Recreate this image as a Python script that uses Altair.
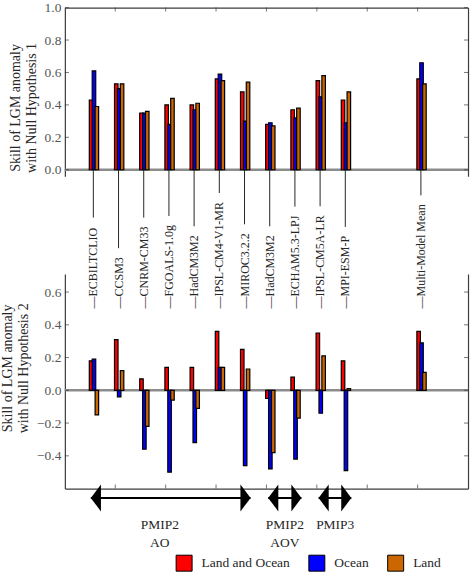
import altair as alt
import pandas as pd

# ---- data -------------------------------------------------------------
models = ["ECBILTCLIO", "CCSM3", "CNRM-CM33", "FGOALS-1.0g", "HadCM3M2",
          "IPSL-CM4-V1-MR", "MIROC3.2.2", "HadCM3M2", "ECHAM5.3-LPJ",
          "IPSL-CM5A-LR", "MPI-ESM-P", "Multi-Model Mean"]
slots = [1, 2, 3, 4, 5, 6, 7, 8, 9, 10, 11, 14]

series = ["Land and Ocean", "Ocean", "Land"]
series_colors = ["#ff0000", "#0000ff", "#cc6600"]

# Skill with null hypothesis 1
h1_land_ocean = [0.43, 0.53, 0.35, 0.40, 0.40, 0.56, 0.48, 0.28, 0.37, 0.55, 0.43, 0.56]
h1_ocean = [0.61, 0.50, 0.35, 0.28, 0.37, 0.59, 0.30, 0.29, 0.32, 0.45, 0.29, 0.66]
h1_land = [0.39, 0.53, 0.36, 0.44, 0.41, 0.55, 0.54, 0.27, 0.38, 0.58, 0.48, 0.53]

# Skill with null hypothesis 2
h2_land_ocean = [0.18, 0.31, 0.07, 0.14, 0.14, 0.36, 0.25, -0.05, 0.08, 0.35, 0.18, 0.36]
h2_ocean = [0.19, -0.04, -0.36, -0.50, -0.32, 0.14, -0.46, -0.48, -0.42, -0.14, -0.49, 0.29]
h2_land = [-0.15, 0.12, -0.22, -0.06, -0.11, 0.14, 0.13, -0.38, -0.17, 0.21, 0.01, 0.11]

# Model ensembles marked with double arrows under the lower panel
groups = ["PMIP2\nAO", "PMIP2\nAOV", "PMIP3"]
group_start = [1.03, 8.07, 10.07]
group_end = [7.37, 9.39, 11.37]
group_label_x = [3.77, 8.73, 10.73]

top_ticks = [0.0, 0.2, 0.4, 0.6, 0.8, 1.0]
bottom_ticks = [-0.4, -0.2, 0.0, 0.2, 0.4, 0.6]
x_ticks = [2, 4, 6, 8, 10, 12, 14]

# ---- layout / style ---------------------------------------------------
FONT = "Liberation Serif"
TEXT = "#262626"
TICK_TEXT = "#555555"
SPINE = "#3c3c3c"
ZERO = "#8c8c8c"

PLOT_W = 404
X_DOMAIN = [0, 16]
TOP_DOMAIN = [-0.04, 1.0]
TOP_H = 169
BOT_DOMAIN = [-0.6, 0.71]
BOT_H = 215
GAP = 98
TOP_PX = TOP_H / (TOP_DOMAIN[1] - TOP_DOMAIN[0])
BOT_PX = BOT_H / (BOT_DOMAIN[1] - BOT_DOMAIN[0])

BAR_OFFSET = [0.04, 0.155, 0.27]
BAR_W = 0.14
LABEL_OFFSET = 0.13
LABEL_SIZE = 12
LABEL_Y = 0.50
ARROW_Y = -0.657
GROUP_TEXT_Y = -0.781
HEAD = 729  # arrow head symbol area

xscale = alt.Scale(domain=X_DOMAIN, nice=False, zero=False)
yscale_top = alt.Scale(domain=TOP_DOMAIN, nice=False, zero=False)
yscale_bot = alt.Scale(domain=BOT_DOMAIN, nice=False, zero=False)
color_scale = alt.Scale(domain=series, range=series_colors)

# Times-compatible advance widths (per 1000 em) used to size the leader lines
_W = dict(zip("ABCDEFGHIJKLMNOPQRSTUVWXYZ",
              [722, 667, 667, 722, 611, 556, 722, 722, 333, 389, 722, 611, 889,
               722, 722, 556, 722, 667, 556, 611, 722, 722, 944, 722, 722, 611]))
_W.update(dict(zip("abcdefghijklmnopqrstuvwxyz",
                   [444, 500, 444, 500, 444, 333, 500, 500, 278, 278, 500, 278, 778,
                    500, 500, 500, 500, 333, 389, 278, 500, 500, 722, 500, 500, 444])))
_W.update({c: 500 for c in "0123456789"})
_W.update({".": 250, "-": 333, " ": 250, "\u2014": 1000})


def text_width(s, size):
    return sum(_W.get(c, 500) for c in s) * size / 1000.0


def bar_frame(vals_by_series):
    rows = []
    for k, (name, vals) in enumerate(zip(series, vals_by_series)):
        for slot, v in zip(slots, vals):
            c = slot + BAR_OFFSET[k]
            rows.append({"x0": c - BAR_W / 2, "x1": c + BAR_W / 2,
                         "v": v, "base": 0.0, "series": name, "k": k})
    return pd.DataFrame(rows)


def spine_axis(orient):
    return alt.Axis(orient=orient, title=None, labels=False, ticks=False,
                    tickSize=0, grid=False, domain=True, domainColor=SPINE,
                    domainWidth=1.2)


def left_axis(values, title, title_y):
    return alt.Axis(orient="left", values=values, format=".1f", title=title,
                    grid=False, ticks=False, tickSize=0, labelPadding=4,
                    domain=True, domainColor=SPINE, domainWidth=1.2,
                    labelFont=FONT, labelFontSize=13.5, labelColor=TICK_TEXT,
                    titleFont=FONT, titleFontSize=14, titleFontWeight="normal",
                    titleColor=TEXT, titleLineHeight=16, titlePadding=6,
                    titleY=title_y)


def panel(vals_by_series, yscale, yticks, x_orient, title, title_y, legend):
    bars_df = bar_frame(vals_by_series)
    zero = alt.Chart(pd.DataFrame({"v": [0.0]})).mark_rule(
        color=ZERO, strokeWidth=2.5).encode(
        y=alt.Y("v:Q", scale=yscale, axis=None))
    bars = alt.Chart(bars_df).mark_bar(stroke="black", strokeWidth=1.2,
                                       opacity=1).encode(
        x=alt.X("x0:Q", scale=xscale, axis=spine_axis(x_orient)),
        x2="x1:Q",
        y=alt.Y("v:Q", scale=yscale, axis=left_axis(yticks, title, title_y)),
        y2="base:Q",
        color=alt.Color("series:N", scale=color_scale, legend=legend),
        order=alt.Order("k:Q"),
    )
    # inward tick marks on the frame
    lo, hi = yscale.domain[0], yscale.domain[1]
    ydf_l = pd.DataFrame({"v": yticks, "x": X_DOMAIN[0]})
    ydf_r = pd.DataFrame({"v": yticks, "x": X_DOMAIN[1]})
    edge = hi if x_orient == "top" else lo
    xdf = pd.DataFrame({"x": x_ticks, "y": edge})
    lticks = alt.Chart(ydf_l).mark_tick(orient="horizontal", size=4, thickness=1,
                                        color=SPINE, xOffset=2).encode(
        x=alt.X("x:Q", scale=xscale), y=alt.Y("v:Q", scale=yscale, axis=None))
    rticks = alt.Chart(ydf_r).mark_tick(orient="horizontal", size=4, thickness=1,
                                        color=SPINE, xOffset=-2).encode(
        x=alt.X("x:Q", scale=xscale), y=alt.Y("v:Q", scale=yscale,
                                              axis=spine_axis("right")))
    xt = alt.Chart(xdf).mark_tick(orient="vertical", size=4, thickness=1,
                                  color=SPINE,
                                  yOffset=2 if x_orient == "top" else -2).encode(
        x=alt.X("x:Q", scale=xscale), y=alt.Y("y:Q", scale=yscale, axis=None))
    return [zero, bars, lticks, rticks, xt]


top_layers = panel([h1_land_ocean, h1_ocean, h1_land], yscale_top, top_ticks,
                   "top", ["Skill of LGM anomaly", "with Null Hypothesis 1"],
                   100, None)
top = alt.layer(*top_layers).resolve_axis(y="independent").properties(
    width=PLOT_W, height=TOP_H)

legend = alt.Legend(orient="none", legendX=111, legendY=281,
                    direction="horizontal", title=None,
                    symbolType="square", symbolSize=256,
                    symbolStrokeColor="black", symbolStrokeWidth=1,
                    symbolOpacity=1, labelFont=FONT, labelFontSize=13.5,
                    labelColor=TEXT, labelOffset=9, columnPadding=16)
bot_layers = panel([h2_land_ocean, h2_ocean, h2_land], yscale_bot, bottom_ticks,
                   "bottom", ["Skill of LGM anomaly", "with Null Hypothesis 2"],
                   94, legend)

# model names written upwards, with leader lines running up to the upper panel
top_zero_in_bot = BOT_DOMAIN[1] + (GAP + (0 - TOP_DOMAIN[0]) * TOP_PX) / BOT_PX
lab_rows = []
for name, slot in zip(models, slots):
    txt = "\u2014" + name
    w = text_width(txt, LABEL_SIZE)
    lab_rows.append({"x": slot + LABEL_OFFSET, "y": LABEL_Y, "label": txt,
                     "y_line": LABEL_Y + (w + 9) / BOT_PX,
                     "y_top": top_zero_in_bot})
lab_df = pd.DataFrame(lab_rows)
labels = alt.Chart(lab_df).mark_text(angle=270, align="left", baseline="middle",
                                     font=FONT, fontSize=LABEL_SIZE,
                                     color=TEXT).encode(
    x=alt.X("x:Q", scale=xscale), y=alt.Y("y:Q", scale=yscale_bot, axis=None),
    text="label:N")
leaders = alt.Chart(lab_df).mark_rule(color=TEXT, strokeWidth=1).encode(
    x=alt.X("x:Q", scale=xscale), y=alt.Y("y_line:Q", scale=yscale_bot, axis=None),
    y2="y_top:Q")

# ensemble arrows
grp_df = pd.DataFrame({"g": groups, "x0": group_start, "x1": group_end,
                       "xl": group_label_x, "y": ARROW_Y, "ty": GROUP_TEXT_Y})
shafts = alt.Chart(grp_df).mark_rule(color="black", strokeWidth=2).encode(
    x=alt.X("x0:Q", scale=xscale), x2="x1:Q",
    y=alt.Y("y:Q", scale=yscale_bot, axis=None))
head_r = alt.Chart(grp_df).mark_point(shape="M0,0L-0.75,-1L-0.75,1Z", size=HEAD,
                                      filled=True, color="black", opacity=1,
                                      strokeWidth=0).encode(
    x=alt.X("x1:Q", scale=xscale), y=alt.Y("y:Q", scale=yscale_bot, axis=None))
head_l = alt.Chart(grp_df).mark_point(shape="M0,0L0.75,-1L0.75,1Z", size=HEAD,
                                      filled=True, color="black", opacity=1,
                                      strokeWidth=0).encode(
    x=alt.X("x0:Q", scale=xscale), y=alt.Y("y:Q", scale=yscale_bot, axis=None))
grp_text = alt.Chart(grp_df).mark_text(font=FONT, fontSize=13.5, color=TEXT,
                                       baseline="top", align="center",
                                       lineBreak="\n", lineHeight=17.5).encode(
    x=alt.X("xl:Q", scale=xscale), y=alt.Y("ty:Q", scale=yscale_bot, axis=None),
    text="g:N")

bottom = alt.layer(*bot_layers, leaders, labels, shafts, head_l, head_r,
                   grp_text).resolve_axis(y="independent").properties(
    width=PLOT_W, height=BOT_H)

chart = alt.vconcat(top, bottom, spacing=GAP, bounds="flush").resolve_legend(
    color="independent"
).properties(
    padding={"left": 0, "top": 0, "right": 5, "bottom": 5}
).configure_view(stroke=None)

chart.save("out.html", embed_options={"renderer": "svg", "actions": False})
